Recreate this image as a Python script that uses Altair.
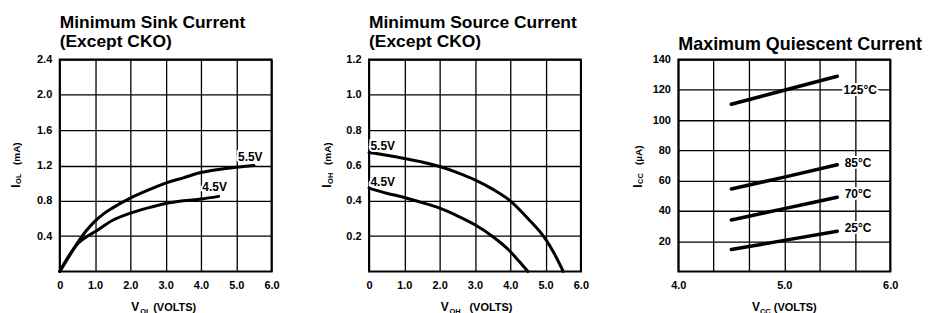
import altair as alt
import pandas as pd

FONT = "Liberation Sans"

# ---------------- data ----------------
sink_x_55 = [0, 0.25, 0.5, 0.75, 1.0, 1.25, 1.5, 2.0, 2.5, 3.0, 3.5, 4.0, 4.5, 5.0, 5.5]
sink_y_55 = [0, 0.16, 0.32, 0.46, 0.57, 0.655, 0.72, 0.83, 0.92, 1.00, 1.06, 1.12, 1.155, 1.18, 1.20]
sink_x_45 = [0, 0.25, 0.5, 0.75, 1.0, 1.5, 2.0, 2.5, 3.0, 3.5, 4.0, 4.5]
sink_y_45 = [0, 0.17, 0.31, 0.39, 0.45, 0.58, 0.66, 0.72, 0.77, 0.80, 0.82, 0.85]

src_x_55 = [0, 0.5, 1.0, 1.5, 2.0, 2.5, 3.0, 3.5, 4.0, 4.5, 5.0, 5.25, 5.5]
src_y_55 = [0.674, 0.658, 0.64, 0.62, 0.594, 0.56, 0.519, 0.466, 0.40, 0.30, 0.183, 0.10, 0]
src_x_45 = [0, 0.5, 1.0, 1.5, 2.0, 2.5, 3.0, 3.5, 4.0, 4.25, 4.5]
src_y_45 = [0.472, 0.443, 0.419, 0.39, 0.358, 0.315, 0.264, 0.198, 0.113, 0.057, 0]

q_x = [4.5, 5.0, 5.5]
q_125 = [110.5, 119.7, 129]
q_85 = [54.5, 62.3, 70.5]
q_70 = [34, 41.5, 49]
q_25 = [14.5, 20.5, 26.5]

sink_labels = ["5.5V", "4.5V"]
sink_label_x = [5.05, 4.04]
sink_label_y = [1.256, 0.907]

src_labels = ["5.5V", "4.5V"]
src_label_x = [0.04, 0.04]
src_label_y = [0.686, 0.483]

q_labels = ["125°C", "85°C", "70°C", "25°C"]
q_label_x = [5.56, 5.57, 5.57, 5.57]
q_label_y = [120, 71.3, 51, 28.6]

sink_xticks = [0, 1, 2, 3, 4, 5, 6]
sink_yticks = [0.4, 0.8, 1.2, 1.6, 2.0, 2.4]
src_xticks = [0, 1, 2, 3, 4, 5, 6]
src_yticks = [0.2, 0.4, 0.6, 0.8, 1.0, 1.2]
q_xticks = [4.0, 4.3333, 4.6667, 5.0, 5.3333, 5.6667, 6.0]
q_yticks = [20, 40, 60, 80, 100, 120, 140]

W = 213
H = 213


def series_df(pairs):
    rows = []
    for name, xs, ys in pairs:
        for x, y in zip(xs, ys):
            rows.append({"series": name, "x": x, "y": y})
    return pd.DataFrame(rows)


def ann(text, x, y, size, angle=0, weight="bold", align="left", baseline="alphabetic"):
    return alt.Chart(pd.DataFrame({"t": [text]})).mark_text(
        font=FONT, fontSize=size, fontWeight=weight, color="black",
        align=align, baseline=baseline, angle=angle,
    ).encode(text="t:N", x=alt.value(x), y=alt.value(y))


def panel(lines, labels, label_baseline, xdom, ydom, xticks, yticks, xlabel_expr, ylabel_fmt,
          title_lines, title_size, ysub, yunit, xsub, xpos, ytitle_x, lw=3):
    xenc = alt.X("x:Q", scale=alt.Scale(domain=xdom, nice=False, zero=False),
                 axis=alt.Axis(values=xticks, tickCount=50, labelExpr=xlabel_expr, title=None,
                               labelFlush=False, labelOverlap=False))
    yenc = alt.Y("y:Q", scale=alt.Scale(domain=ydom, nice=False, zero=False),
                 axis=alt.Axis(values=yticks, tickCount=50, format=ylabel_fmt, title=None,
                               labelOverlap=False))
    line = alt.Chart(lines).mark_line(color="black", strokeWidth=lw,
                                      interpolate="monotone", strokeCap="round").encode(
        x=xenc, y=yenc, detail="series:N")
    halo = alt.Chart(labels).mark_text(
        font=FONT, fontSize=12, fontWeight="bold", align="left", baseline=label_baseline,
        color="white", stroke="white", strokeWidth=4).encode(
        x="x:Q", y="y:Q", text="label:N")
    txt = alt.Chart(labels).mark_text(
        font=FONT, fontSize=12, fontWeight="bold", align="left", baseline=label_baseline,
        color="black").encode(x="x:Q", y="y:Q", text="label:N")
    layers = [line, halo, txt]
    # titles
    for t, ty in title_lines:
        layers.append(ann(t, 0, ty, title_size))
    # y-axis title: I + subscript + unit (rotated)
    layers.append(ann("I", ytitle_x, 129, 12, angle=270))
    layers.append(ann(ysub, ytitle_x + 1.5, 125, 7.5, angle=270))
    layers.append(ann(yunit, ytitle_x, 106, 10, angle=270))
    # x-axis title: V + subscript + (VOLTS)
    vx, sx, px = xpos
    layers.append(ann("V", vx, H + 40, 12))
    layers.append(ann(xsub, sx, H + 43, 7.5))
    layers.append(ann("(VOLTS)", px, H + 40, 11))
    return alt.layer(*layers).properties(width=W, height=H)


sink_lines = series_df([("5.5V", sink_x_55, sink_y_55), ("4.5V", sink_x_45, sink_y_45)])
sink_lab = pd.DataFrame({"label": sink_labels, "x": sink_label_x, "y": sink_label_y})
src_lines = series_df([("5.5V", src_x_55, src_y_55), ("4.5V", src_x_45, src_y_45)])
src_lab = pd.DataFrame({"label": src_labels, "x": src_label_x, "y": src_label_y})
q_lines = series_df([("125", q_x, q_125), ("85", q_x, q_85), ("70", q_x, q_70), ("25", q_x, q_25)])
q_lab = pd.DataFrame({"label": q_labels, "x": q_label_x, "y": q_label_y})

lab01 = "datum.value == 0 ? '0' : format(datum.value, '.1f')"
labq = "abs(datum.value - round(datum.value)) < 0.01 ? format(datum.value, '.1f') : ''"

p1 = panel(sink_lines, sink_lab, "alphabetic", [0, 6], [0, 2.4], sink_xticks, sink_yticks, lab01, ".1f",
           [("Minimum Sink Current", -31.5), ("(Except CKO)", -13)], 17.5,
           "OL", "(mA)", "OL", (72, 81, 94), -40)
p2 = panel(src_lines, src_lab, "alphabetic", [0, 6], [0, 1.2], src_xticks, src_yticks, lab01, ".1f",
           [("Minimum Source Current", -31.5), ("(Except CKO)", -13)], 17.5,
           "OH", "(mA)", "OH", (72, 81, 101), -38)
p3 = panel(q_lines, q_lab, "middle", [4, 6], [0, 140], q_xticks, q_yticks, labq, "d",
           [("Maximum Quiescent Current", -9.5)], 18,
           "CC", "(µA)", "CC", (74, 82, 96), -37, lw=3.5)

chart = alt.hconcat(alt.hconcat(p1, p2, spacing=40), p3, spacing=41).properties(
    padding={"left": 1, "top": 4, "right": 0, "bottom": 0}, background="white"
).configure_view(
    stroke="black", strokeWidth=2
).configure_axis(
    grid=True, gridColor="black", gridWidth=1.3, gridOpacity=1,
    domain=False, ticks=False,
    labelFont=FONT, labelFontWeight="bold", labelFontSize=11, labelColor="black",
    labelPadding=8,
)

chart.save("out.html", embed_options={"renderer": "svg", "actions": False})
